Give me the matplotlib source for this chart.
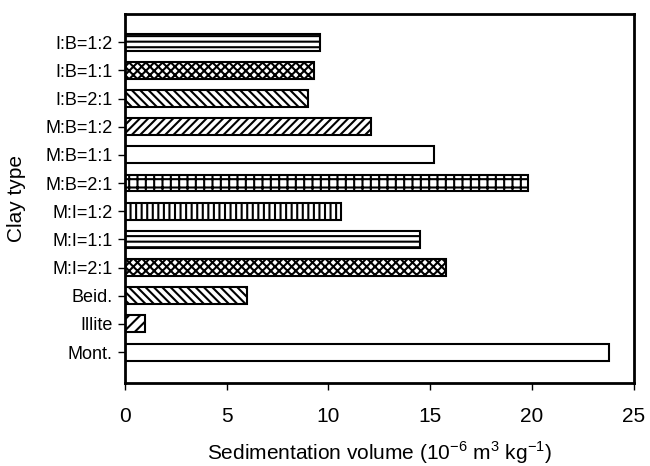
import matplotlib.pyplot as plt

plt.rcParams['font.family'] = ['Liberation Sans', 'DejaVu Sans']
plt.rcParams['hatch.linewidth'] = 1.5
plt.rcParams['mathtext.fontset'] = 'custom'
plt.rcParams['mathtext.rm'] = 'Liberation Sans'

clay_types = ['Mont.', 'Illite', 'Beid.', 'M:I=2:1', 'M:I=1:1', 'M:I=1:2',
              'M:B=2:1', 'M:B=1:1', 'M:B=1:2', 'I:B=2:1', 'I:B=1:1', 'I:B=1:2']
sed_volume = [23.8, 1.0, 6.0, 15.8, 14.5, 10.6, 19.8, 15.2, 12.1, 9.0, 9.3, 9.6]
hatches = ['', '///', '\\\\\\\\', 'xxxx', '---', '|||', '++', '', '////', '\\\\\\\\', 'xxxx', '---']

fig = plt.figure(figsize=(6.5, 4.66), dpi=100)
ax = fig.add_axes([0.192, 0.178, 0.783, 0.792])

for i, (v, h) in enumerate(zip(sed_volume, hatches)):
    ax.barh(i, v, height=0.6, color='white', edgecolor='black', linewidth=1.5, hatch=h)

ax.set_xlim(0, 25)
ax.set_ylim(-1.1, 12.0)
ax.set_yticks(range(len(clay_types)))
ax.set_yticklabels(clay_types, fontsize=13)
ax.set_xticks([0, 5, 10, 15, 20, 25])
ax.tick_params(axis='x', labelsize=15, direction='out', length=5, width=1, pad=12)
ax.tick_params(axis='y', direction='out', length=5, width=1, pad=4)
for s in ax.spines.values():
    s.set_linewidth(2)

ax.set_xlabel('Sedimentation volume (10$^{\\mathrm{-6}}$ m$^{\\mathrm{3}}$ kg$^{\\mathrm{-1}}$)', fontsize=15, labelpad=10)
ax.set_ylabel('Clay type', fontsize=15, labelpad=14)

fig.savefig('out.png', dpi=100)
